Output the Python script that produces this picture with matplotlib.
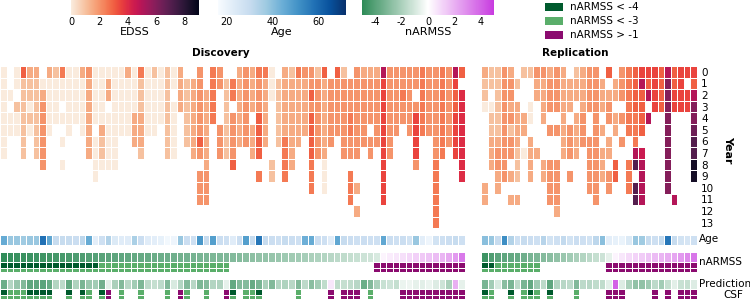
import numpy as np
import matplotlib
matplotlib.use("Agg")
import matplotlib.pyplot as plt
import seaborn as sns
from matplotlib.colors import LinearSegmentedColormap, Normalize, ListedColormap
from matplotlib.cm import ScalarMappable
from matplotlib.patches import Rectangle

# ---------------- data ----------------
EDSS_CODE = {'.': np.nan, 'a': 0.0, 'b': 1.0, 'c': 1.5, 'd': 2.0, 'e': 2.5, 'f': 3.0,
             'g': 3.5, 'h': 4.0, 'i': 4.5, 'j': 5.0, 'k': 5.5, 'l': 6.0, 'm': 6.5,
             'n': 7.0, 'o': 7.5, 'p': 8.0, 'q': 8.5}
years = list(range(14))

# one string per patient (column), characters = EDSS at year 0..13
disc_edss = [
    "aaaaaaaa......", "..a.aa........", "aa.baa........", "fbbbbbbb......",
    "cbbaba........", "cbbbbbbb......", ".acdddddd.....", "caaaaa........",
    "baaaa.........", "eaa.a.a.a.....", "aaaaaa........", "aaaaa.........",
    "caaaaa........", "dccccccc......", "aaaaa.aaaa....", "aaaaacbba.....",
    "acc.aaaaa.....", "aaaaaaaaa.....", "aaaaaa........", "caaaaa........",
    "aaaaccc.......", "ebbbcccb......", "aaaaaa........", "baaaaa........",
    "aaaaa.........", "bbbbbbbb......", "aa.aaaaa......", "cccc..........",
    ".bbbbbb.......", ".ccccccc......", "ddddddfd.ddd..", "..cccccccddd..",
    "eeeee.........", "dd...ddd......", ".bbbbbbb......", ".ee.ddddf.....",
    "ccccccc.......", "ddddddd.......", "cccc.ccc......", "edddffff.e....",
    "ecccccc.......", "aaa.....bb....", ".bbbbbb.......", "cccccceeee....",
    "bcccccccc.....", "ecccccc.......", "dccccc........", "ddfdffffeee...",
    "bddddddd......", "fcccccccaaa...", ".dddddd.......", "fddddd........",
    "bddddddd......", ".dddeedd.eee..", "dddddddd..c.c.", "cdddddd.......",
    "cdddd.dd......", "cdddddd.......", "jggggggggggg..", "dddddddd......",
    "dddddd........", "ddedd.........", "dddddd........", "dd.dggggd.....",
    "eeeeee........", "dddddd........", "ddddddddeeeeee", "eeeeeeee......",
    "ddddddd.......", "jgffgggg......", "f.hhhhhhhh....",
]
rep_edss = [
    "cbba......cc..", "bb.abbccc.....", "bbbbbbcddcc...", "dddddddddd....",
    "cddcdbdd.c.c..", ".b.ccccbbb.c..", "b...cc.a......", "b..aa.cccc....",
    "dcc....c......", "dcccc...cc....", "cddd.d..dddd..", "dddd.d..ddddc.",
    "cccccccc......", ".ccc.ddd.d....", "bcc.cccc......", "ccccddd.......",
    "dddd..ddddd...", "dddddddddddd..", ".ccc.c.ccc....", "f.cdd.cc.dd...",
    ".cc.cc..ff....", "ddd.d.d.......", "eeeeee..eee...", "ffffeeejn.nn..",
    "gjffff.ijjjj..", "gfj.j.........", "gggg..........", "ffff..........",
    "jllllllllll...", "ffgg.......j..", "gggg..........", "g.gg..........",
    "gfjllmnnqq....",
]

disc_age = [45, 38, 38, 37, 38, 38, 58, 46, 30, 30, 30, 29, 32, 45, 22, 28, 34, 24,
            23, 23, 35, 29, 23, 22, 21, 18, 19, 38, 29, 28, 50, 30, 48, 29, 28, 23,
            29, 48, 30, 57, 30, 29, 28, 30, 29, 28, 44, 45, 29, 28, 23, 46, 30, 29,
            28, 29, 28, 28, 46, 29, 28, 29, 27, 38, 22, 19, 27, 28, 29, 30, 28]
rep_age = [40, 38, 30, 52, 34, 28, 30, 29, 28, 33, 27, 28, 31, 27, 29, 28, 27, 32,
           40, 22, 21, 20, 24, 38, 37, 30, 28, 31, 57, 30, 27, 26, 28]

disc_narmss = [-4.9, -4.8, -4.75, -4.7, -4.65, -4.6, -4.55, -4.5, -4.45, -4.4, -4.3,
               -4.25, -4.2, -4.1, -4.05, -3.95, -3.9, -3.85, -3.8, -3.75, -3.7, -3.65,
               -3.6, -3.55, -3.5, -3.45, -3.4, -3.35, -3.3, -3.25, -3.2, -3.15, -3.1,
               -3.05, -3.02, -2.95, -2.9, -2.8, -2.7, -2.6, -2.55, -2.5, -2.4, -2.3,
               -2.25, -2.2, -2.1, -2.0, -1.9, -1.8, -1.7, -1.6, -1.5, -1.4, -1.3, -1.2,
               -1.1, -0.9, 0.3, 0.5, 0.6, 0.8, 1.0, 1.2, 1.4, 1.5, 1.7, 1.9, 2.2, 2.6, 3.4]
rep_narmss = [-4.6, -4.2, -3.9, -3.8, -3.7, -3.6, -3.4, -3.2, -3.1, -2.9, -2.8, -2.6,
              -2.4, -2.2, -2.0, -1.8, -1.6, -1.4, -1.2, -0.6, 0.3, 0.6, 0.9, 1.1, 1.3,
              1.5, 1.7, 1.9, 2.1, 2.3, 2.6, 3.0, 3.5]

disc_pred = [-3.5, -1.8, -2.5, -3.0, -3.8, -3.8, -3.9, -3.6, -1.8, -1.6, -3.7, -1.9,
             -3.2, -2.4, -2.2, -3.4, -0.7, -2.0, -3.0, -1.7, -2.2, -3.1, -1.6, -1.4,
             -1.6, -3.0, -0.9, -1.8, -3.0, -1.7, -3.1, -2.9, -1.8, -1.9, -0.6, -3.7,
             -3.0, -2.9, -3.6, -3.2, -2.0, -3.0, -1.8, -1.9, -1.7, -3.0, -1.6, -2.8,
             -2.2, -1.5, 0.6, -1.5, -1.4, -1.5, -1.7, -3.5, -3.0, -2.0, -1.3, -1.2,
             -1.4, -0.5, -0.4, -0.6, -0.7, -0.5, -0.8, -1.2, -2.0, 2.0, -0.6]
rep_pred = [-3.2, -2.2, -0.9, -2.8, -3.2, -1.6, -3.2, -3.7, -2.3, -1.6, -3.8, -1.8,
            -1.7, -1.6, -3.0, -1.6, -1.7, -1.5, -1.5, -0.7, 4.0, -0.8, -2.0, -2.6,
            -2.6, -2.3, -1.6, -2.2, -1.4, -0.7, -1.3, -1.4, -0.8]

# CSF class per patient: D = nARMSS < -4, G = nARMSS < -3, P = nARMSS > -1, . = none
disc_csf = "DGGGDDDD..D.DG.DP.G..G...G.PG..G..PD.GGD.....G....P.PPP.G....PPPPPPPPPP"
rep_csf = "DG..D.GDG.D...G....PPP....P.P.PPP"

# ---------------- style ----------------
plt.rcParams['font.family'] = ['DejaVu Sans']
plt.rcParams['axes.unicode_minus'] = False
edss_cmap = sns.color_palette("rocket_r", as_cmap=True)
edss_norm = Normalize(0, 9)
age_cmap = plt.get_cmap("Blues")
age_norm = Normalize(16.5, 72)
nar_cmap = LinearSegmentedColormap.from_list("nar", ["#2e8b57", "#ffffff", "#c83ce0"])
nar_norm = Normalize(-5, 5)
C_DARK, C_GREEN, C_PURPLE = "#005a2d", "#5aae6a", "#8b0b6f"

fig = plt.figure(figsize=(7.5, 3.0), dpi=100)


def fax(x0, y0, x1, y1):
    return fig.add_axes([x0 / 750, 1 - y1 / 300, (x1 - x0) / 750, (y1 - y0) / 300])


def edss_matrix(cols):
    return np.array([[EDSS_CODE[ch] for ch in col] for col in cols]).T


def mesh(ax, M, cmap, norm, y0=0.0):
    M = np.atleast_2d(np.asarray(M, dtype=float))
    ax.pcolormesh(np.arange(M.shape[1] + 1), y0 + np.arange(M.shape[0] + 1),
                  np.ma.masked_invalid(M), cmap=cmap, norm=norm,
                  edgecolors="white", linewidth=0.5)


def cat_row(ax, codes, row):
    n = len(codes)
    xs = np.arange(n + 1)
    green = np.array([1.0 if c in "DG" else np.nan for c in codes])[None, :]
    dark = np.array([1.0 if c == "D" else np.nan for c in codes])[None, :]
    purp = np.array([1.0 if c == "P" else np.nan for c in codes])[None, :]
    for arr, col, h in [(green, C_GREEN, 1.0), (purp, C_PURPLE, 1.0), (dark, C_DARK, 0.62)]:
        ax.pcolormesh(xs, [row, row + h], np.ma.masked_invalid(arr),
                      cmap=ListedColormap([col]), vmin=0, vmax=2,
                      edgecolors="white", linewidth=0.5)


def narmss_codes(vals):
    out = ""
    for v in vals:
        out += "D" if v < -4 else ("G" if v < -3 else ("P" if v > -1 else "."))
    return out


def finish(ax, n, nrows):
    ax.set_xlim(0, n)
    ax.set_ylim(nrows, 0)
    ax.set_xticks([])
    ax.set_yticks([])
    for s in ax.spines.values():
        s.set_visible(False)


blocks = [
    (0.0, 464.7, disc_edss, disc_age, disc_narmss, disc_pred, disc_csf),
    (481.0, 697.0, rep_edss, rep_age, rep_narmss, rep_pred, rep_csf),
]
for i, (x0, x1, ed, ag, nar, pr, csf) in enumerate(blocks):
    n = len(ed)
    ax = fax(x0, 66, x1, 228.5)
    mesh(ax, edss_matrix(ed), edss_cmap, edss_norm)
    finish(ax, n, len(years))
    if i == 1:
        ax.yaxis.tick_right()
        ax.set_yticks(np.arange(len(years)) + 0.5)
        ax.set_yticklabels([str(y) for y in years], fontsize=7.5)
        ax.tick_params(axis="y", length=0, pad=3)
    ax_age = fax(x0, 234.5, x1, 245)
    mesh(ax_age, [ag], age_cmap, age_norm)
    finish(ax_age, n, 1)
    ax_n = fax(x0, 252, x1, 272)
    mesh(ax_n, [nar], nar_cmap, nar_norm)
    cat_row(ax_n, narmss_codes(nar), 1)
    finish(ax_n, n, 2)
    ax_p = fax(x0, 279, x1, 299)
    mesh(ax_p, [pr], nar_cmap, nar_norm)
    cat_row(ax_p, csf, 1)
    finish(ax_p, n, 2)

fig.text(221 / 750, 1 - 53 / 300, "Discovery", ha="center", va="center", fontsize=7.5, fontweight="bold")
fig.text(575 / 750, 1 - 53 / 300, "Replication", ha="center", va="center", fontsize=7.5, fontweight="bold")
fig.text(728 / 750, 1 - 150 / 300, "Year", ha="center", va="center", fontsize=8, fontweight="bold", rotation=270)
fig.text(699 / 750, 1 - 239.5 / 300, "Age", ha="left", va="center", fontsize=7.5)
fig.text(699 / 750, 1 - 262 / 300, "nARMSS", ha="left", va="center", fontsize=7.5)
fig.text(699 / 750, 1 - 284 / 300, "Prediction", ha="left", va="center", fontsize=7.5)
fig.text(723 / 750, 1 - 294.5 / 300, "CSF", ha="left", va="center", fontsize=7.5)

# colorbars
for (x0, x1, cmap, norm, ticks, label) in [
    (71, 199, edss_cmap, edss_norm, [0, 2, 4, 6, 8], "EDSS"),
    (218, 346, age_cmap, age_norm, [20, 40, 60], "Age"),
    (362, 494, nar_cmap, nar_norm, [-4, -2, 0, 2, 4], "nARMSS"),
]:
    cax = fax(x0, 0, x1, 14.7)
    cb = fig.colorbar(ScalarMappable(norm=norm, cmap=cmap), cax=cax, orientation="horizontal")
    cb.outline.set_visible(False)
    cb.set_ticks(ticks)
    cax.tick_params(labelsize=7, length=0, pad=2)
    cb.set_label(label, fontsize=8, labelpad=0)

# legend
for yc, col, lab in [(7, C_DARK, "nARMSS < -4"), (21, C_GREEN, "nARMSS < -3"), (34.5, C_PURPLE, "nARMSS > -1")]:
    fig.patches.append(Rectangle((545 / 750, 1 - (yc + 4) / 300), 18 / 750, 8 / 300,
                                 transform=fig.transFigure, facecolor=col, edgecolor="none"))
    fig.text(570 / 750, 1 - yc / 300, lab, ha="left", va="center", fontsize=7.5)

fig.savefig("out.png", dpi=100)
